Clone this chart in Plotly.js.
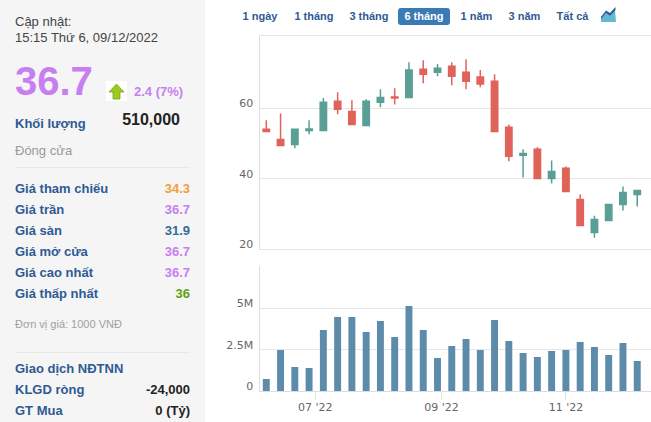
<!DOCTYPE html>
<html>
<head>
<meta charset="utf-8">
<script src="https://cdn.plot.ly/plotly-3.0.1.min.js"></script>
<style>
  html, body { margin: 0; padding: 0; background: #fff; overflow: hidden; }
  body { width: 651px; height: 422px; position: relative; font-family: "Liberation Sans", Arial, sans-serif; }
  #chart { position: absolute; left: 0; top: 0; width: 651px; height: 422px; }
  #side { position: absolute; left: 0; top: 0; width: 205px; height: 422px; background: #f5f5f5; }
  .t { position: absolute; white-space: nowrap; line-height: 16px; }
  .b { font-weight: bold; }
  .lbl { left: 15px; color: #2f5a93; font-size: 13px; font-weight: bold; }
  .val { right: 15px; font-size: 13px; font-weight: bold; }
  .hr { position: absolute; left: 15px; width: 175px; height: 1px; background: #e8e8e8; }
  .btn { position: absolute; top: 8px; height: 17px; line-height: 17px; font-size: 11px; font-weight: bold; color: #2f5a93; text-align: center; }
  .on { background: #3a7ab5; color: #fff; border-radius: 3px; }
</style>
</head>
<body>
<div id="chart"></div>
<div id="side">
  <div class="t" style="left:15px;top:14px;font-size:13px;color:#444">Cập nhật:</div>
  <div class="t" style="left:15px;top:30px;font-size:13px;color:#444">15:15 Thứ 6, 09/12/2022</div>
  <div class="t b" style="left:15px;top:59px;line-height:44px;font-size:40px;color:#c77ff0">36.7</div>
  <svg style="position:absolute;left:106px;top:81px" width="21" height="20">
    <rect width="21" height="20" fill="#fff"/>
    <path d="M10.5 3 L18 11 L14 11 L14 18 L7 18 L7 11 L3 11 Z" fill="#9acb1e" stroke="#6f9a14" stroke-width="0.7"/>
  </svg>
  <div class="t b" style="left:134px;top:84px;font-size:13px;color:#c77ff0">2.4 (7%)</div>
  <div class="t lbl" style="top:116px">Khối lượng</div>
  <div class="t b" style="right:25px;top:112px;font-size:16px;color:#222">510,000</div>
  <div class="t" style="left:15px;top:143px;font-size:13px;color:#999">Đóng cửa</div>
  <div class="hr" style="top:167px"></div>
  <div id="rows"></div>
  <div class="t" style="left:15px;top:316px;font-size:11px;color:#a0a0a0">Đơn vị giá: 1000 VNĐ</div>
  <div class="hr" style="top:352px"></div>
  <div class="t lbl" style="top:361px">Giao dịch NĐTNN</div>
  <div class="t lbl" style="top:382px">KLGD ròng</div>
  <div class="t val" style="top:382px;color:#222">-24,000</div>
  <div class="t lbl" style="top:403px">GT Mua</div>
  <div class="t val" style="top:403px;color:#222">0 (Tỷ)</div>
</div>
<div class="btn" style="left:240px;width:40px">1 ngày</div>
<div class="btn" style="left:292px;width:44px">1 tháng</div>
<div class="btn" style="left:347px;width:44px">3 tháng</div>
<div class="btn on" style="left:398px;width:52px">6 tháng</div>
<div class="btn" style="left:458px;width:37px">1 năm</div>
<div class="btn" style="left:506px;width:37px">3 năm</div>
<div class="btn" style="left:554px;width:37px">Tất cả</div>
<svg style="position:absolute;left:600px;top:7px" width="17" height="16">
  <path d="M1 15 L1 10 L6 6 L10 9 L15 3 L16 15 Z" fill="#63b9cf"/>
  <path d="M1 10 L6 3.5 L10 6 L15.5 0 L15.5 3 L10 9 L6 6 L1 12 Z" fill="#2c5a9c"/>
</svg>
<script>
// weekly candles
const dates = ['2022-06-07', '2022-06-14', '2022-06-21', '2022-06-28', '2022-07-05', '2022-07-12', '2022-07-19',
    '2022-07-26', '2022-08-02', '2022-08-09', '2022-08-16', '2022-08-23', '2022-08-30', '2022-09-06',
    '2022-09-13', '2022-09-20', '2022-09-27', '2022-10-04', '2022-10-11', '2022-10-18', '2022-10-25',
    '2022-11-01', '2022-11-08', '2022-11-15', '2022-11-22', '2022-11-29', '2022-12-06'];
const opens = [54.1, 51.2, 49.8, 53.8, 53.8, 62.1, 59.2, 55.2, 61.8, 63.3, 63.2, 71.2, 70.4, 72.1,
    70.4, 69.0, 67.8, 54.7, 46.7, 48.4, 40.1, 43.0, 34.1, 24.7, 28.1, 32.7, 35.5];
const highs = [56.7, 58.6, 54.1, 56.7, 63.0, 64.7, 62.4, 62.7, 65.5, 65.8, 73.2, 73.8, 72.7, 73.2,
    74.1, 71.0, 69.8, 55.5, 48.4, 49.0, 45.2, 43.5, 35.5, 29.5, 32.7, 37.8, 36.7];
const lows = [53.5, 49.5, 48.7, 52.7, 53.8, 58.4, 55.5, 55.2, 60.4, 61.2, 63.0, 67.2, 69.2, 66.7,
    65.5, 66.1, 53.5, 45.0, 40.4, 40.1, 38.7, 36.4, 26.7, 23.2, 28.1, 31.0, 32.1];
const closes = [53.5, 49.5, 54.1, 54.2, 61.8, 59.8, 55.5, 62.1, 63.2, 63.0, 71.0, 69.8, 71.5, 69.2,
    67.8, 67.0, 53.5, 46.4, 47.2, 40.1, 42.1, 36.4, 26.7, 28.4, 32.7, 36.1, 36.7];
const volumes = [0.74, 2.49, 1.47, 1.41, 3.69, 4.48, 4.48, 3.57, 4.24, 3.27, 5.14, 3.69, 2.01, 2.73,
    3.15, 2.49, 4.30, 3.03, 2.31, 2.07, 2.43, 2.49, 2.97, 2.67, 2.19, 2.91, 1.83];
const priceTicks = [20, 40, 60];
const volumeTicks = [0, 2.5, 5];
const volumeTickLabels = ['0', '2.5M', '5M'];

// side panel rows
const rowLabels = ['Giá tham chiếu', 'Giá trần', 'Giá sàn', 'Giá mở cửa', 'Giá cao nhất', 'Giá thấp nhất'];
const rowValues = ['34.3', '36.7', '31.9', '36.7', '36.7', '36'];
const rowColors = ['#f0a040', '#c77ff0', '#2f6f96', '#c77ff0', '#c77ff0', '#5fa010'];

const rows = document.getElementById('rows');
rowLabels.forEach((label, i) => {
    const top = 181 + i * 21;
    rows.innerHTML += `<div class="t lbl" style="top:${top}px">${label}</div>` +
        `<div class="t val" style="top:${top}px;color:${rowColors[i]}">${rowValues[i]}</div>`;
});

const RED = '#e0635a';
const GREEN = '#5a9f96';
const GRID = '#e6e6e6';
const H = 422;
const DAY_MS = 86400000;

const traces = [
    {
        type: 'candlestick',
        x: dates, open: opens, high: highs, low: lows, close: closes,
        xaxis: 'x2', yaxis: 'y',
        increasing: { line: { color: GREEN, width: 1.5 }, fillcolor: GREEN },
        decreasing: { line: { color: RED, width: 1.5 }, fillcolor: RED },
        whiskerwidth: 0,
        hoverinfo: 'skip'
    },
    {
        type: 'bar',
        x: dates, y: volumes,
        xaxis: 'x', yaxis: 'y2',
        width: 3.4 * DAY_MS,
        marker: { color: '#5d8cab' },
        hoverinfo: 'skip'
    }
];

const xRange = ['2022-06-03 16:00', '2022-12-12 18:00'];
const layout = {
    width: 651, height: H,
    margin: { l: 0, r: 0, t: 0, b: 0 },
    paper_bgcolor: '#fff', plot_bgcolor: '#fff',
    font: { family: '"DejaVu Sans", sans-serif', size: 11, color: '#666' },
    showlegend: false,
    boxgap: 0.36,
    xaxis: {
        type: 'date', domain: [259.5 / 651, 1], range: xRange, anchor: 'y2',
        dtick: 'M2', tick0: '2022-07-01', tickformat: "%m '%y",
        ticks: 'outside', ticklen: 8, tickcolor: '#dfe3e8', tickwidth: 1,
        ticklabelstandoff: -3,
        showgrid: false, showline: true, linecolor: '#d8dde6', mirror: false,
        rangeslider: { visible: false }
    },
    xaxis2: {
        type: 'date', domain: [259.5 / 651, 1], range: xRange, anchor: 'y',
        showticklabels: false, ticks: '', showgrid: false,
        showline: true, linecolor: GRID, mirror: true,
        rangeslider: { visible: false }
    },
    yaxis: {
        domain: [1 - 249 / H, 1 - 36 / H], range: [20, 80.7], anchor: 'x2',
        tickvals: priceTicks, gridcolor: GRID, showline: true, linecolor: '#d8dde6',
        zeroline: false, ticklabelshift: -5, ticklabelstandoff: 3
    },
    yaxis2: {
        domain: [1 - 391.3 / H, 1 - 266 / H], range: [0, 7.55], anchor: 'x',
        tickvals: volumeTicks, ticktext: volumeTickLabels, gridcolor: GRID,
        showline: true, linecolor: '#d8dde6',
        zeroline: false, ticklabelshift: -5, ticklabelstandoff: 3
    }
};

Plotly.newPlot('chart', traces, layout, { displayModeBar: false, staticPlot: true });
</script>
</body>
</html>
